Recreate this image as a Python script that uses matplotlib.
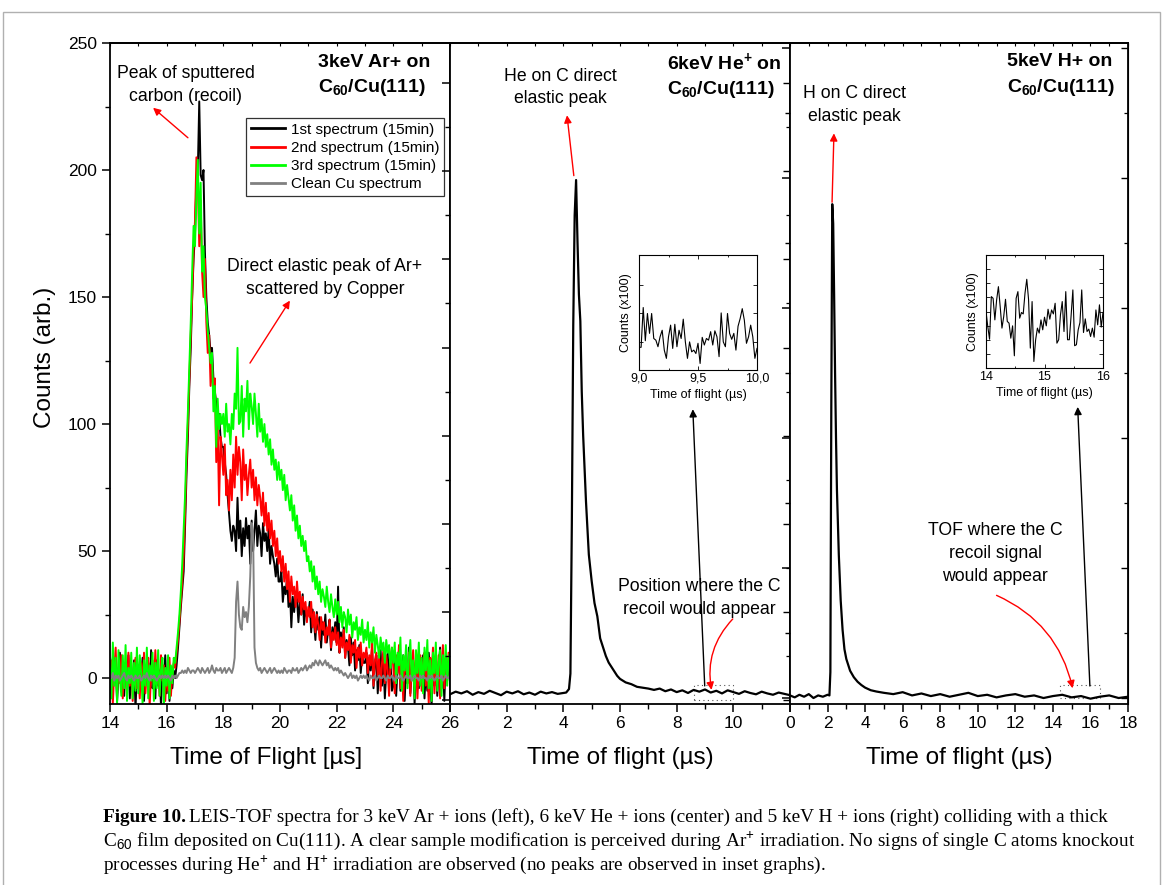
import numpy as np
import matplotlib
matplotlib.use('Agg')
import matplotlib.pyplot as plt
from matplotlib.ticker import MultipleLocator, FixedLocator, FixedFormatter, NullFormatter
from matplotlib.patches import Rectangle

plt.rcParams['font.family'] = ['Liberation Sans', 'DejaVu Sans']
plt.rcParams['mathtext.fontset'] = 'custom'
plt.rcParams['mathtext.rm'] = 'Liberation Sans'
plt.rcParams['mathtext.it'] = 'Liberation Sans:italic'
plt.rcParams['mathtext.bf'] = 'Liberation Sans:bold'

# ---------------- DATA ----------------
# Panel 1: 3 keV Ar+ (time grid 14.00 .. 26.00 us, step 0.05)
ar_t0, ar_dt, ar_n = 14.0, 0.05, 241
ar_spec1 = [3, -6, 8, -2, 5, -9, 1, 10, -4, 2, -7, 6, -1, 9, -8, 3, -3, 7, -12, 2,
            5, -5, 0, 8, -9, 4, -2, 6, -7, 11, -4, 1, -8, 7, -3, 3, -11, 5, -1, 9,
            -6, 4, -9, 2, -4, 3, 0, 5, 12, 20, 28, 35, 42, 60, 80, 95, 115, 130, 150, 165,
            175, 195, 200, 227, 198, 196, 200, 168, 150, 140, 135, 128, 130, 118, 113, 108, 101, 104, 95, 91,
            91, 85, 80, 72, 65, 58, 54, 60, 58, 50, 71, 55, 62, 48, 59, 52, 63, 55, 60, 45,
            62, 50, 58, 66, 52, 60, 57, 48, 61, 54, 57, 50, 59, 45, 52, 48, 45, 40, 47, 38,
            38, 42, 30, 36, 33, 40, 28, 35, 20, 32, 26, 34, 31, 22, 30, 25, 33, 21, 28, 24,
            25, 30, 18, 27, 22, 15, 26, 19, 24, 12, 22, 17, 25, 14, 19, 23, 11, 20, 16, 22,
            14, 36, 10, 18, 13, 20, 8, 15, 12, 5, 16, 9, 14, 3, 11, 7, 13, 2, 9, 6,
            6, 10, -2, 8, 3, 12, -4, 5, 9, -6, 4, 11, -3, 7, -8, 2, 10, -1, 6, -5,
            -3, 8, -7, 4, 11, -5, 2, 9, -9, 5, -2, 12, -6, 3, 7, -10, 1, 8, -4, 6,
            -2, 9, -8, 4, -5, 10, 0, -11, 6, -3, 8, -7, 3, 12, -4, 5, -9, 7, -1, 4,
            2]
ar_spec2 = [-4, 7, -10, 3, 12, -6, 4, -2, 9, -8, 5, 1, -5, 10, -3, 6, -9, 2, 8, -4,
            1, -8, 6, -3, 10, -6, 3, 8, -11, 2, 7, -4, 11, -2, 4, -7, 9, -1, 5, -9,
            3, -5, 8, -7, 2, 6, 4, 10, 15, 22, 30, 38, 48, 65, 85, 100, 118, 135, 150, 168,
            180, 205, 195, 170, 188, 160, 150, 165, 140, 128, 135, 115, 125, 110, 118, 85, 100, 68, 95, 88,
            80, 92, 72, 78, 66, 82, 70, 88, 75, 95, 80, 91, 85, 70, 90, 78, 84, 72, 80, 86,
            75, 82, 70, 79, 68, 76, 71, 64, 73, 60, 69, 58, 65, 55, 62, 52, 58, 48, 55, 45,
            50, 42, 48, 38, 45, 35, 42, 30, 40, 33, 36, 28, 38, 30, 34, 25, 32, 27, 30, 22,
            28, 24, 30, 20, 26, 18, 25, 21, 15, 24, 19, 22, 14, 20, 17, 23, 12, 18, 15, 20,
            13, 18, 10, 16, 12, 19, 8, 14, 11, 17, 6, 13, 10, 15, 4, 12, 8, 14, 5, 10,
            8, 12, 2, 9, 5, 14, -3, 7, 10, 1, 8, -5, 6, 11, -2, 9, 3, -7, 7, 12,
            4, -6, 9, 2, 13, -4, 6, -9, 8, 3, -2, 10, -7, 5, 11, -3, 7, -8, 4, 9,
            -5, 6, 10, -3, 4, -10, 8, 2, 12, -6, 5, -1, 9, -8, 3, 13, -4, 6, 0, 10,
            5]
ar_spec3 = [5, -8, 14, -3, 8, -10, 11, 0, -7, 9, -4, 13, -9, 4, -2, 10, -8, 6, -5, 12,
            -6, 9, 2, -10, 7, -3, 12, -8, 5, -1, 10, -9, 6, -4, 11, -7, 3, 8, -11, 4,
            -3, 9, -8, 5, -2, 8, 6, 12, 18, 25, 34, 45, 58, 72, 90, 105, 122, 140, 160, 178,
            170, 190, 204, 175, 195, 160, 170, 150, 145, 137, 130, 124, 128, 105, 115, 91, 110, 98, 104, 100,
            104, 95, 108, 97, 100, 92, 104, 98, 112, 106, 130, 100, 101, 115, 95, 110, 105, 117, 98, 112,
            107, 100, 112, 104, 95, 108, 97, 102, 93, 100, 91, 96, 88, 94, 84, 90, 82, 86, 78, 85,
            78, 82, 74, 80, 70, 76, 71, 66, 72, 62, 68, 58, 64, 55, 60, 52, 56, 50, 54, 46,
            48, 42, 46, 38, 44, 35, 40, 33, 38, 30, 35, 32, 28, 36, 30, 26, 33, 28, 24, 31,
            25, 30, 22, 28, 20, 26, 24, 18, 27, 21, 25, 16, 22, 19, 24, 15, 20, 17, 23, 14,
            19, 15, 22, 12, 18, 14, 20, 10, 17, 13, 8, 16, 11, 14, 6, 15, 10, 13, 4, 12,
            6, 14, -2, 10, 5, 16, -5, 9, 3, 13, -4, 8, 15, -1, 7, -8, 11, 2, 14, -3,
            8, -6, 12, 3, 15, -4, 7, -9, 10, 2, 14, -5, 6, 11, -7, 9, 1, 13, -3, 8,
            10]
ar_clean = [1, 0, 2, -1, 1, 0, 1, -1, 0, 1, 2, 0, -1, 1, 0, 1, 0, -1, 1, 0,
            0, 1, -1, 0, 1, 0, 2, 0, -1, 1, 0, 1, 0, -1, 0, 1, 0, 1, 0, 1,
            0, 1, 0, -1, 1, 0, 1, 0, 1, 2, 2, 3, 2, 3, 2, 4, 3, 2, 3, 3,
            2, 3, 4, 3, 2, 4, 3, 2, 3, 4, 2, 3, 5, 3, 2, 4, 3, 3, 4, 2,
            3, 4, 2, 3, 4, 3, 2, 4, 8, 30, 38, 25, 20, 19, 28, 24, 26, 22, 28, 40,
            61, 57, 12, 6, 4, 3, 4, 2, 3, 4, 3, 2, 3, 4, 2, 3, 4, 3, 2, 3,
            2, 3, 2, 4, 3, 2, 3, 3, 2, 4, 3, 3, 4, 2, 3, 4, 3, 4, 5, 3,
            4, 5, 4, 6, 5, 7, 6, 5, 7, 6, 5, 6, 7, 5, 6, 4, 5, 4, 3, 4,
            3, 4, 2, 3, 2, 1, 2, 1, 0, 1, 2, 0, 1, 0, 1, -1, 0, 1, 0, 1,
            0, 1, 0, -1, 1, 0, 0, 1, -1, 0, 1, 0, 0, 1, 0, -1, 1, 0, 0, 1,
            0, -1, 1, 0, 0, 1, 0, -1, 0, 1, 0, 0, 1, -1, 0, 1, 0, 0, -1, 1,
            0, 1, 0, 0, -1, 1, 0, 1, 0, -1, 0, 1, 0, 0, 1, -1, 0, 1, 0, 0,
            1]
ar_labels = ['1st spectrum (15min)', '2nd spectrum (15min)',
             '3rd spectrum (15min)', 'Clean Cu spectrum']

# Panel 2: 6 keV He+
he_t = [0.0, 0.2, 0.4, 0.6, 0.8, 1.0, 1.2, 1.4, 1.6, 1.8, 2.0, 2.2, 2.4, 2.6, 2.8, 3.0,
        3.2, 3.4, 3.6, 3.8, 4.0,
        4.1, 4.2, 4.25, 4.3, 4.35, 4.4, 4.45, 4.5, 4.55, 4.6, 4.65, 4.7, 4.8, 4.9,
        5.0, 5.1, 5.2, 5.3, 5.4, 5.5, 5.6, 5.7, 5.8, 5.9, 6.0, 6.2, 6.4, 6.6, 6.8, 7.0,
        7.2, 7.4, 7.6, 7.8, 8.0, 8.2, 8.4, 8.6, 8.8, 9.0, 9.2, 9.4, 9.6, 9.8, 10.0,
        10.2, 10.4, 10.6, 10.8, 11.0, 11.2, 11.4, 11.6, 11.8, 12.0]
he_c = [1.3, 1.9, 1.5, 2.0, 1.2, 1.8, 1.4, 2.1, 1.6, 1.1, 1.9, 1.5, 2.0, 1.3, 1.7, 1.2,
        1.9, 1.5, 1.8, 1.4, 1.6,
        1.7, 2.5, 6, 40, 85, 110, 118, 104, 92, 86, 70, 60, 45, 33,
        27, 22, 19, 14, 12, 10, 8.5, 7.5, 6.5, 5.5, 4.8, 4.0, 3.6, 3.0, 2.8, 2.6,
        2.3, 2.6, 2.0, 2.4, 1.8, 2.2, 1.6, 2.3, 1.9, 2.4, 1.7, 2.1, 1.5, 2.2, 1.8,
        1.4, 2.0, 1.6, 1.3, 1.9, 1.5, 1.2, 1.7, 1.4, 1.1]
he_inset_c = [0.80, 0.80, 2.20, 1.03, 1.99, 1.29, 1.99, 1.11, 1.05, 0.82, 1.17, 1.40,
              0.70, 0.41, 1.17, 1.58, 0.76, 1.61, 0.82, 1.40, 1.11, 1.79, 0.99, 0.41,
              0.99, 0.64, 0.70, 0.58, 0.94, 0.23, 1.15, 0.88, 1.11, 1.05, 1.35, 0.88,
              1.38, 1.17, 0.47, 2.01, 0.99, 0.82, 1.99, 1.29, 1.08, 1.29, 0.70, 1.54,
              1.81, 2.16, 1.75, 0.94, 1.17, 1.58, 1.17, 0.41, 0.76]
he_inset_range = (9.0, 10.0)

# Panel 3: 5 keV H+
h_t = [0.0, 0.25, 0.5, 0.75, 1.0, 1.25, 1.5, 1.75, 2.0,
       2.1, 2.15, 2.2, 2.25, 2.3, 2.35, 2.4, 2.45, 2.5, 2.6, 2.7, 2.8, 2.9, 3.0,
       3.2, 3.4, 3.6, 3.8, 4.0, 4.3, 4.6, 5.0,
       5.5, 6.0, 6.5, 7.0, 7.5, 8.0, 8.5, 9.0, 9.5, 10.0, 10.5, 11.0, 11.5, 12.0,
       12.5, 13.0, 13.5, 14.0, 14.5, 15.0, 15.5, 16.0, 16.5, 17.0, 17.5, 18.0]
h_c = [0.4, 0.1, 0.5, 0.2, 0.6, 0.0, 0.4, 0.2, 0.5,
       0.4, 4, 45, 76, 73, 62, 50, 40, 32, 22, 15, 10.5, 7.5, 6,
       4.2, 3.2, 2.5, 2.0, 1.6, 1.2, 1.0, 0.8,
       0.6, 0.9, 0.4, 0.7, 0.3, 0.6, 0.2, 0.5, 0.8, 0.3, 0.5, 0.1, 0.4, 0.6,
       0.2, 0.4, 0.0, 0.3, 0.5, 0.1, 0.3, -0.1, 0.2, 0.4, 0.0, 0.2]
h_inset_c = [3.00, 1.94, 1.05, 4.05, 3.93, 2.41, 3.82, 4.75, 3.35, 1.83, 2.65, 3.86,
             2.30, 2.18, 1.12, 1.99, -0.12, 3.93, 4.40, 2.53, 2.93, 2.83, 4.29, 5.27,
             3.86, 0.42, 3.70, -0.52, 1.01, 1.83, 1.48, 2.41, 1.71, 2.60, 1.99, 3.16,
             2.46, 3.11, 2.83, 3.58, 0.77, 1.01, 2.76, 3.70, 1.59, 4.40, 1.01, 1.01,
             2.69, 4.52, 0.59, 0.66, 1.71, 2.22, 4.52, 1.52, 2.48, 1.59, 1.76, 1.24,
             1.83, 1.19, 3.11, 2.06, 3.47, 1.90, 2.93]
h_inset_range = (14.0, 16.0)

# ---------------- FIGURE ----------------
W, H = 1171, 885
fig = plt.figure(figsize=(W / 100, H / 100), dpi=100)
fig.patch.set_facecolor('white')


def fbox(x0, y0, x1, y1):
    return [x0 / W, 1 - y1 / H, (x1 - x0) / W, (y1 - y0) / H]


ax1 = fig.add_axes(fbox(110, 43, 450, 704))
ax2 = fig.add_axes(fbox(450, 43, 790, 704))
ax3 = fig.add_axes(fbox(790, 43, 1128, 704))

RED = '#ff0000'
GREEN = '#00ff00'
GRAY = '#808080'
SP_LW = 1.3

t_ar = ar_t0 + ar_dt * np.arange(ar_n)
ax1.plot(t_ar, ar_spec1, color='black', lw=1.4, label=ar_labels[0])
ax1.plot(t_ar, ar_spec2, color=RED, lw=1.4, label=ar_labels[1])
ax1.plot(t_ar, ar_spec3, color=GREEN, lw=1.4, label=ar_labels[2])
ax1.plot(t_ar, ar_clean, color=GRAY, lw=1.4, label=ar_labels[3])
ax1.set_xlim(14, 26)
ax1.set_ylim(-10.2, 250)

ax2.plot(he_t, he_c, color='black', lw=1.6)
ax2.set_xlim(0, 12)
ax2.set_ylim(-0.9, 149.1)

ax3.plot(h_t, h_c, color='black', lw=1.6)
ax3.set_xlim(0, 18)
ax3.set_ylim(-0.92, 100.8)

for ax in (ax1, ax2, ax3):
    for s in ax.spines.values():
        s.set_linewidth(SP_LW)
    ax.xaxis.set_major_locator(MultipleLocator(2))
    ax.xaxis.set_minor_locator(MultipleLocator(1))
    ax.tick_params(axis='x', which='major', direction='out', length=6, width=1.1,
                   labelsize=12.5, pad=3, top=False)
    ax.tick_params(axis='x', which='minor', direction='out', length=3.5, width=1.0, top=False)
    ax.tick_params(axis='y', which='major', direction='out', length=6, width=1.1,
                   labelsize=12.5, right=False)
    ax.tick_params(axis='y', which='minor', direction='out', length=3.5, width=1.0, right=False)
    sx = ax.secondary_xaxis('top')
    sx.xaxis.set_major_locator(MultipleLocator(2))
    sx.xaxis.set_minor_locator(MultipleLocator(1))
    sx.tick_params(which='both', direction='in', length=2.5, width=0.8, labeltop=False)
    sx.spines['top'].set_linewidth(SP_LW)

ax1.yaxis.set_major_locator(MultipleLocator(50))
ax1.yaxis.set_minor_locator(MultipleLocator(25))

ax2.xaxis.set_major_locator(FixedLocator([0, 2, 4, 6, 8, 10, 12]))
ax2.xaxis.set_major_formatter(FixedFormatter(['', '2', '4', '6', '8', '10', '']))

for ax, maj, mnr in ((ax2, 20, 10), (ax3, 20, 10)):
    ax.yaxis.set_major_locator(MultipleLocator(maj))
    ax.yaxis.set_minor_locator(MultipleLocator(mnr))
    ax.tick_params(axis='y', labelleft=False)
    sy = ax.secondary_yaxis('right')
    sy.yaxis.set_major_locator(MultipleLocator(maj))
    sy.yaxis.set_minor_locator(MultipleLocator(mnr))
    sy.tick_params(which='major', direction='in', length=5, width=1.0, labelright=False)
    sy.tick_params(which='minor', direction='in', length=3, width=0.9, labelright=False)

# axis labels
fig.text(266 / W, 1 - 758 / H, 'Time of Flight [\u00b5s]', fontsize=17.5, ha='center', va='center')
fig.text(620 / W, 1 - 758 / H, 'Time of flight (\u00b5s)', fontsize=17.5, ha='center', va='center')
fig.text(959 / W, 1 - 758 / H, 'Time of flight (\u00b5s)', fontsize=17.5, ha='center', va='center')
fig.text(45 / W, 1 - 357 / H, 'Counts (arb.)', fontsize=17.5, ha='center', va='center', rotation=90)

# legend
leg = ax1.legend(loc='upper right', bbox_to_anchor=(0.982, 0.8865), borderaxespad=0,
                 fontsize=11, frameon=True, fancybox=False, handlelength=2.2,
                 handletextpad=0.4, labelspacing=0.28, borderpad=0.3)
leg.get_frame().set_edgecolor('black')
leg.get_frame().set_linewidth(0.9)
for ln in leg.get_lines():
    ln.set_linewidth(2.0)

# titles (placed at the same figure height in every panel)
TFS = 14
ax1.text(21.34, 237, '3keV Ar+ on\nC$_{\\mathbf{60}}$/Cu(111)', fontsize=TFS, fontweight='bold',
         ha='left', va='center', linespacing=1.45)
ax2.text(7.65, 141.7, '6keV He$^{\\mathbf{+}}$ on\nC$_{\\mathbf{60}}$/Cu(111)', fontsize=TFS,
         fontweight='bold', ha='left', va='center', linespacing=1.45)
ax3.text(11.55, 95.8, '5keV H+ on\nC$_{\\mathbf{60}}$/Cu(111)', fontsize=TFS, fontweight='bold',
         ha='left', va='center', linespacing=1.45)

AFS = 12.7
red_arrow = dict(arrowstyle='-|>', color=RED, lw=1.0, mutation_scale=11, shrinkA=0, shrinkB=0)
blk_arrow = dict(arrowstyle='-|>', color='black', lw=1.0, mutation_scale=11, shrinkA=0, shrinkB=0)

# panel 1 annotations
ax1.text(16.68, 233.5, 'Peak of sputtered\ncarbon (recoil)', fontsize=AFS, ha='center',
         va='center', linespacing=1.45)
ax1.annotate('', xy=(15.52, 224.5), xytext=(16.75, 212.7), arrowprops=red_arrow)
ax1.text(21.59, 157.6, 'Direct elastic peak of Ar+\nscattered by Copper', fontsize=AFS,
         ha='center', va='center', linespacing=1.45)
ax1.annotate('', xy=(20.35, 148.6), xytext=(18.94, 124), arrowprops=red_arrow)

# panel 2 annotations
ax2.text(3.89, 139, 'He on C direct\nelastic peak', fontsize=AFS, ha='center', va='center',
         linespacing=1.45)
ax2.annotate('', xy=(4.13, 132.7), xytext=(4.37, 119), arrowprops=red_arrow)
ax2.text(8.81, 23.2, 'Position where the C\nrecoil would appear', fontsize=AFS, ha='center',
         va='center', linespacing=1.45)
ax2.annotate('', xy=(9.23, 2.3), xytext=(9.98, 18.4),
             arrowprops=dict(red_arrow, connectionstyle='arc3,rad=0.25'))
ax2.annotate('', xy=(8.57, 66), xytext=(8.99, 3.2), arrowprops=blk_arrow)
ax2.add_patch(Rectangle((8.6, 0.0), 1.4, 3.4, fill=False, ls=(0, (1, 3)), lw=0.8, ec='#555555'))

# panel 3 annotations
ax3.text(3.41, 91.2, 'H on C direct\nelastic peak', fontsize=AFS, ha='center', va='center',
         linespacing=1.45)
ax3.annotate('', xy=(2.34, 86.9), xytext=(2.24, 76.3), arrowprops=red_arrow)
ax3.text(10.92, 22.2, 'TOF where the C\nrecoil signal\nwould appear', fontsize=AFS,
         ha='center', va='center', linespacing=1.45)
ax3.annotate('', xy=(15.05, 1.5), xytext=(11.0, 15.8),
             arrowprops=dict(red_arrow, connectionstyle='arc3,rad=-0.25'))
ax3.annotate('', xy=(15.32, 44.8), xytext=(15.97, 1.85), arrowprops=blk_arrow)
ax3.add_patch(Rectangle((14.4, 0.0), 2.1, 2.0, fill=False, ls=(0, (1, 3)), lw=0.8, ec='#555555'))

# insets
IFS = 9
ins1 = fig.add_axes(fbox(639, 255, 757, 370))
ins1.plot(np.linspace(he_inset_range[0], he_inset_range[1], len(he_inset_c)), he_inset_c,
          color='black', lw=0.8)
ins1.set_xlim(*he_inset_range)
ins1.set_ylim(0, 4.05)
ins1.set_xticks([9.0, 9.5, 10.0])
ins1.set_xticklabels(['9,0', '9,5', '10,0'])
ins1.xaxis.set_minor_locator(MultipleLocator(0.25))
ins1.set_yticks([1, 2, 3])
ins1.yaxis.set_major_formatter(NullFormatter())

ins3 = fig.add_axes(fbox(986, 255, 1103, 368))
ins3.plot(np.linspace(h_inset_range[0], h_inset_range[1], len(h_inset_c)), h_inset_c,
          color='black', lw=0.8)
ins3.set_xlim(*h_inset_range)
ins3.set_ylim(-0.98, 6.98)
ins3.set_xticks([14, 15, 16])
ins3.set_xticklabels(['14', '15', '16'])
ins3.xaxis.set_minor_locator(MultipleLocator(0.5))
ins3.set_yticks([0, 1, 2, 3, 4, 5, 6])
ins3.yaxis.set_major_formatter(NullFormatter())

for ins in (ins1, ins3):
    for s in ins.spines.values():
        s.set_linewidth(0.8)
    ins.tick_params(which='both', direction='in', labelsize=IFS, top=True, right=True,
                    width=0.6, pad=2)
    ins.tick_params(which='major', length=3)
    ins.tick_params(which='minor', length=1.5)
    ins.set_xlabel('Time of flight (\u00b5s)', fontsize=IFS, labelpad=3)
    ins.set_ylabel('Counts (x100)', fontsize=IFS, labelpad=3)

# caption
CAP = 'Liberation Serif'
cfs = 13.9
line_y = [817, 841, 865]
tb = fig.text(103 / W, 1 - line_y[0] / H, 'Figure 10.', family=CAP, fontweight='bold',
              fontsize=cfs, ha='left', va='center')
fig.canvas.draw()
rend = fig.canvas.get_renderer()
bb = tb.get_window_extent(rend)
fig.text((bb.x1 + 3) / W, 1 - line_y[0] / H,
         'LEIS-TOF spectra for 3 keV Ar + ions (left), 6 keV He + ions (center) and 5 keV H + ions (right) colliding with a thick',
         family=CAP, fontsize=cfs, ha='left', va='center')
fig.text(103 / W, 1 - line_y[1] / H,
         'C$_{60}$ film deposited on Cu(111). A clear sample modification is perceived during Ar$^{+}$ irradiation. No signs of single C atoms knockout',
         family=CAP, fontsize=cfs, ha='left', va='center')
fig.text(103 / W, 1 - line_y[2] / H,
         'processes during He$^{+}$ and H$^{+}$ irradiation are observed (no peaks are observed in inset graphs).',
         family=CAP, fontsize=cfs, ha='left', va='center')

# outer frame
fig.patches.append(Rectangle((3 / W, -0.01), (1160 - 3) / W, 1.01 - 12 / H, fill=False,
                             ec='#b0b0b0', lw=1.0, transform=fig.transFigure, figure=fig))

fig.savefig('out.png', dpi=100)
